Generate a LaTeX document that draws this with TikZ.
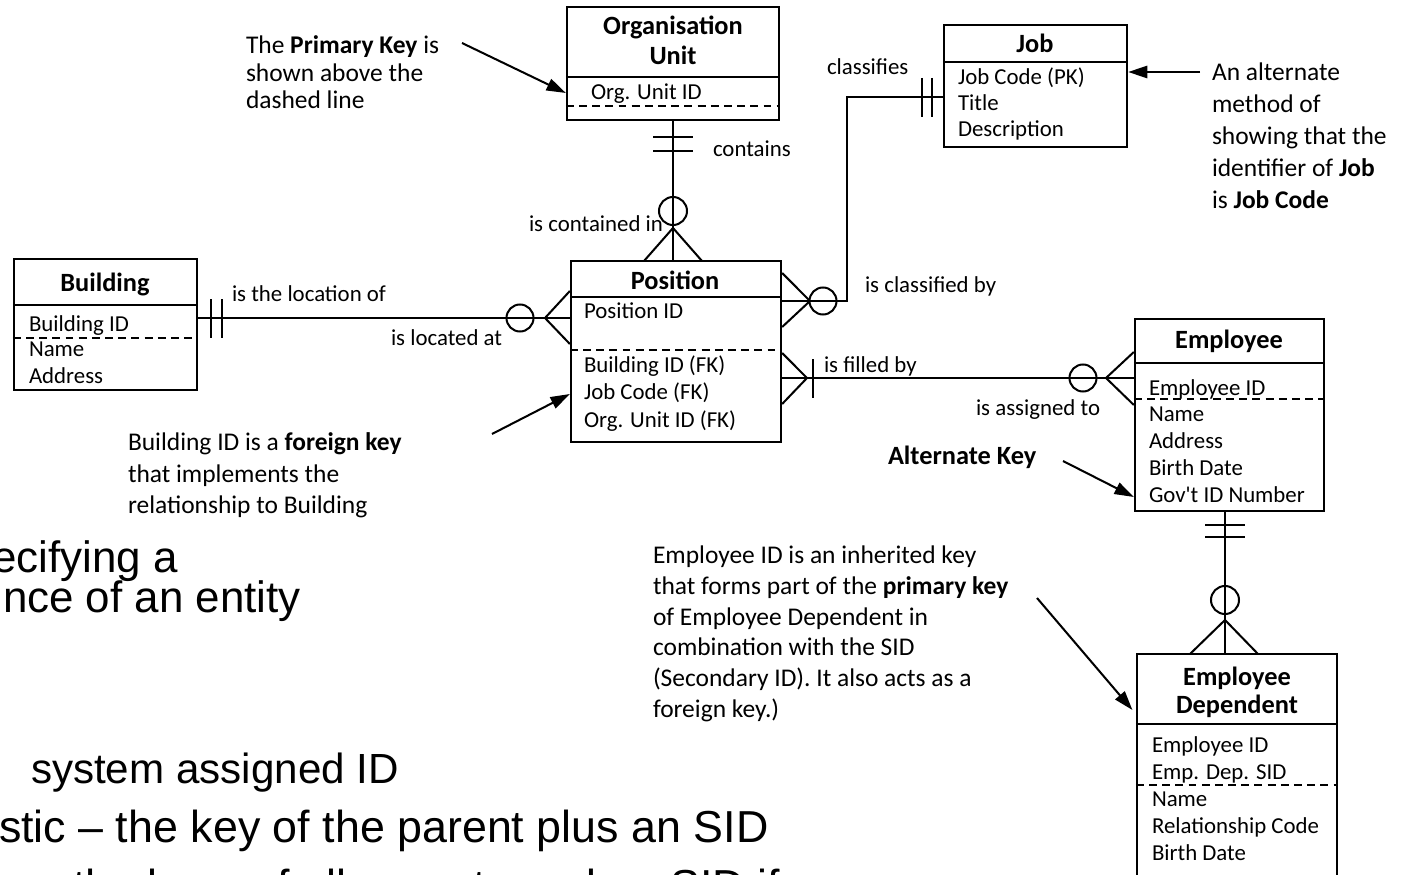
\documentclass[tikz,border=0pt]{standalone}
\usepackage{fontspec}
\setmainfont{Carlito}
\newfontfamily\slidefont{Liberation Sans}
\usetikzlibrary{arrows.meta, positioning, fit}

\begin{document}
\begin{tikzpicture}[
  x=0.02cm, y=-0.02cm,
  line width=1.15pt,
  entity/.style={draw, rectangle, inner sep=0pt, line width=1.3pt, fit={#1}},
  enttitle/.style={font=\fontsize{15}{18}\selectfont\bfseries, inner sep=0pt, anchor=base},
  field/.style={font=\fontsize{13}{15}\selectfont, inner sep=0pt, anchor=base west},
  role/.style={font=\fontsize{13}{15}\selectfont, inner sep=0pt, anchor=base west},
  note/.style={font=\fontsize{14.5}{#1}\selectfont, inner sep=0pt, anchor=north west, align=left},
  keyline/.style={dash pattern=on 4.5pt off 3pt},
  pointer/.style={-{Triangle[length=11pt, width=7pt]}, line width=1.15pt},
  bullet/.style={font=\slidefont\fontsize{#1}{30}\selectfont, inner sep=0pt, anchor=base west}
]
\useasboundingbox (0,0) rectangle (1401,875);
\clip (0,0) rectangle (1401,875);

% entities
\node[entity={(567,7) (779,120)}] (org) {};
\node[entity={(944,25) (1127,147)}] (job) {};
\node[entity={(14,259) (197,390)}] (bldg) {};
\node[entity={(571,261) (781,442)}] (pos) {};
\node[entity={(1135,319) (1324,511)}] (emp) {};
\node[entity={(1137,654) (1337,900)}] (dep) {};

% Organisation Unit
\node[enttitle] (orgT1) at (673,35) {Organisation};
\node[enttitle] (orgT2) at (673,65) {Unit};
\draw (org.west |- 0,77) -- (org.east |- 0,77);
\node[field] (orgF1) at (590,100) {Org. Unit ID};
\draw[keyline] (org.west |- 0,106) -- (org.east |- 0,106);

% Job
\node[enttitle] (jobT) at (1035,53) {Job};
\draw (job.west |- 0,62) -- (job.east |- 0,62);
\foreach \f [count=\i] in {Job Code (PK), Title, Description}
  \node[field] (jobF\i) at (957,59+26*\i) {\f};

% Building
\node[enttitle] (bldgT) at (105,292) {Building};
\draw (bldg.west |- 0,305) -- (bldg.east |- 0,305);
\foreach \f [count=\i] in {Building ID, Name, Address}
  \node[field] (bldgF\i) at (28,305+26*\i) {\f};
\draw[keyline] (bldg.west |- 0,338) -- (bldg.east |- 0,338);

% Position
\node[enttitle] (posT) at (675,290) {Position};
\draw (pos.west |- 0,297) -- (pos.east |- 0,297);
\node[field] (posF0) at (583,318) {Position ID};
\draw[keyline] (pos.west |- 0,350) -- (pos.east |- 0,350);
\foreach \f [count=\i] in {Building ID (FK), Job Code (FK), Org. Unit ID (FK)}
  \node[field] (posF\i) at (583,344.5+27.5*\i) {\f};

% Employee
\node[enttitle] (empT) at (1229,348) {Employee};
\draw (emp.west |- 0,363) -- (emp.east |- 0,363);
\foreach \f [count=\i] in {Employee ID, Name, Address, Birth Date, Gov\textquotesingle t ID Number}
  \node[field] (empF\i) at (1148,368.2+26.8*\i) {\f};
\draw[keyline] (emp.west |- 0,399) -- (emp.east |- 0,399);

% Employee Dependent
\node[enttitle] (depT1) at (1237,685) {Employee};
\node[enttitle] (depT2) at (1237,713) {Dependent};
\draw (dep.west |- 0,724) -- (dep.east |- 0,724);
\foreach \f [count=\i] in {Employee ID, Emp. Dep. SID, Name, Relationship Code, Birth Date}
  \node[field] (depF\i) at (1151,725+27*\i) {\f};
\draw[keyline] (dep.west |- 0,785) -- (dep.east |- 0,785);

% Organisation Unit -- Position
\draw (org.south) -- (org.south |- pos.north);
\draw (653,137) -- (693,137) (653,151) -- (693,151);
\draw (673,211) circle[radius=14];
\draw (644,261) -- (673,228) -- (702,261);

% Building -- Position
\draw (bldg.east |- 0,318) -- (pos.west |- 0,318);
\draw (211,299) -- (211,338) (222,299) -- (222,338);
\draw (520,318) circle[radius=13.5];
\draw (pos.west |- 0,291) -- (545,318) -- (pos.west |- 0,344);

% Position -- Job
\draw (pos.east |- 0,301) -| (847,97) -- (job.west |- 0,97);
\draw (922,78) -- (922,117) (932,78) -- (932,117);
\draw (823,301) circle[radius=13.5];
\draw (pos.east |- 0,273) -- (810,301) -- (pos.east |- 0,327);

% Position -- Employee
\draw (pos.east |- 0,378) -- (emp.west |- 0,378);
\draw (813,359) -- (813,398);
\draw (pos.east |- 0,353) -- (807,378) -- (pos.east |- 0,404);
\draw (1083,378) circle[radius=13.5];
\draw (emp.west |- 0,352) -- (1106,378) -- (emp.west |- 0,405);

% Employee -- Employee Dependent
\draw (emp.south -| 1225,0) -- (dep.north -| 1225,0);
\draw (1205,525) -- (1245,525) (1205,537) -- (1245,537);
\draw (1225,600) circle[radius=14];
\draw (1190,654) -- (1225,620) -- (1258,654);

% relationship names
\node[role] (lContains) at (712,157) {contains};
\node[role] (lContained) at (528,232) {is contained in};
\node[role] (lLocOf) at (231,301) {is the location of};
\node[role] (lLocAt) at (390,345) {is located at};
\node[role] (lClassifies) at (826,75) {classifies};
\node[role] (lClassBy) at (864,293) {is classified by};
\node[role] (lFilled) at (823,372) {is filled by};
\node[role] (lAssigned) at (975,415) {is assigned to};

% notes
\node[note=15.6pt] (notePK) at (245,35) {The \textbf{Primary Key} is\\shown above the\\dashed line};
\node[note=18.2pt] (noteJob) at (1211,62) {An alternate\\method of\\showing that the\\identifier of \textbf{Job}\\is \textbf{Job Code}};
\node[note=17.9pt] (noteFK) at (127,432) {Building ID is a \textbf{foreign key}\\that implements the\\relationship to Building};
\node[note=15pt, font=\fontsize{15}{18}\selectfont, anchor=base west] (noteAlt) at (887,464) {\textbf{Alternate Key}};
\node[note=17.5pt] (noteInh) at (652,545) {Employee ID is an inherited key\\that forms part of the \textbf{primary key}\\of Employee Dependent in\\combination with the SID\\(Secondary ID). It also acts as a\\foreign key.)};

\coordinate (pkFrom) at (462,43);
\coordinate (jobFrom) at (1200,72);
\coordinate (fkFrom) at (492,434);
\coordinate (altFrom) at (1063,461);
\coordinate (inhFrom) at (1037,598);
\draw[pointer] (pkFrom) -- (org.west |- 0,93);
\draw[pointer] (jobFrom) -- (job.east |- jobFrom);
\draw[pointer] (fkFrom) -- (pos.west |- 0,394);
\draw[pointer] (altFrom) -- (emp.west |- 0,497);
\draw[pointer, shorten >=3pt] (inhFrom) -- (dep.west |- 0,714);

% slide text behind the diagram
\node[bullet=25] (b1) at (-9,572) {ecifying a};
\node[bullet=25] (b2) at (2,612) {nce of an entity};
\node[bullet=24] (b3) at (30,783) {system assigned ID};
\node[bullet=25.5] (b4) at (-2,842) {stic – the key of the parent plus an SID};
\node[bullet=25.5] (b5) at (72,901) {the keys of all parents and an SID if};
\end{tikzpicture}
\end{document}
